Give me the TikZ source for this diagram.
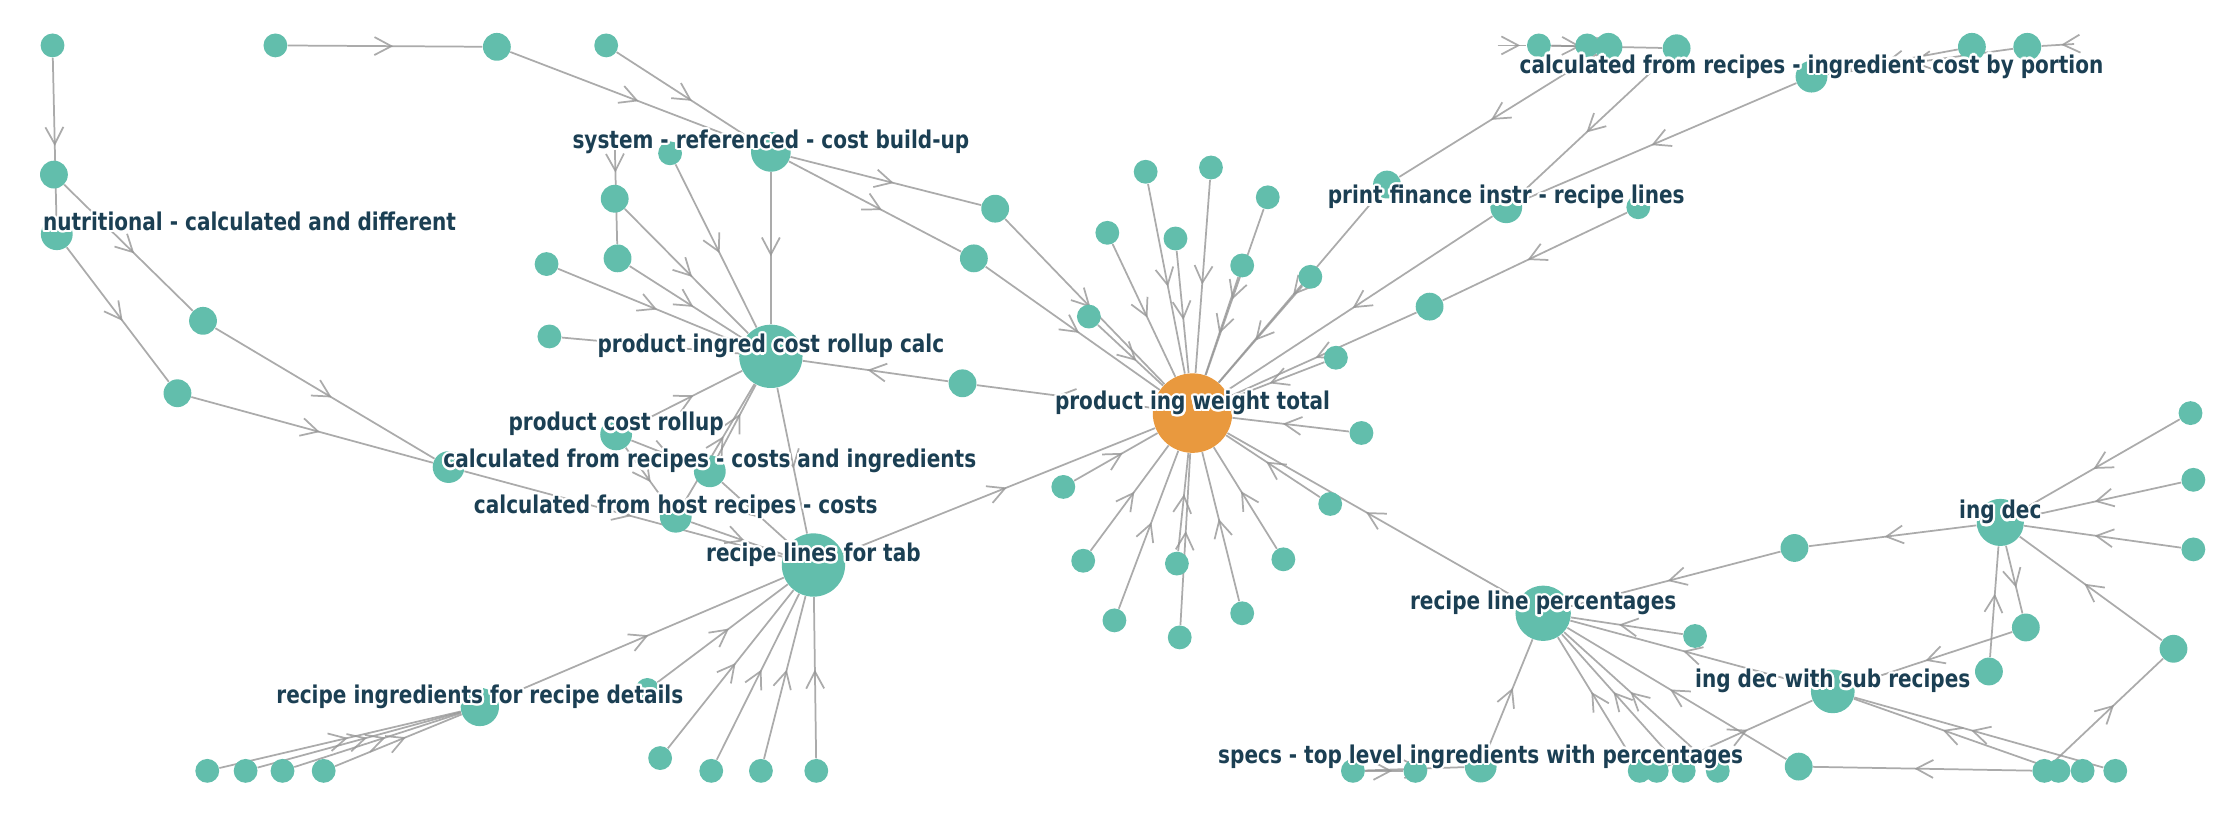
\documentclass[tikz,border=0pt]{standalone}
\usepackage{fontspec}
\usepackage{contour}
\usepackage{tikz}
\usetikzlibrary{decorations.markings, backgrounds}
\newfontfamily\labelfont{DejaVu Sans}[FakeStretch=0.82]
\contourlength{0.9pt}
\definecolor{nodeteal}{RGB}{98,190,172}
\definecolor{hubamber}{RGB}{233,153,62}
\definecolor{labelink}{RGB}{27,63,83}
\definecolor{linkgray}{RGB}{150,150,150}
\newcommand{\glow}[1]{\contour{white}{#1}}
\tikzset{
  sdot/.style={circle, fill=nodeteal, inner sep=0pt, minimum size=0.336cm},
  mdot/.style={sdot, minimum size=0.392cm},
  ldot/.style={sdot, minimum size=0.448cm},
  bigdot/.style={sdot, minimum size=#1},
  hubdot/.style={circle, fill=hubamber, inner sep=0pt, minimum size=1.12cm},
  lbl/.style={anchor=base, yshift=1.4pt, inner sep=0pt, text=labelink,
    font=\labelfont\bfseries\fontsize{9.8}{11.5}\selectfont},
  chevron/.style={draw=linkgray, draw opacity=0.8, line width=0.7pt},
  link/.style={draw=linkgray, draw opacity=0.8, line width=0.7pt,
    postaction={decorate}, decoration={markings, mark=at position #1 with
    {\draw[chevron] (-4.3pt,3.6pt) -- (2.5pt,0pt) -- (-4.3pt,-3.6pt);}}},
  link/.default=0.5
}

\begin{document}
\begin{tikzpicture}[x=0.02cm, y=-0.02cm]
  \useasboundingbox (0,0) rectangle (1568,573);

  % left side
  \node[sdot] (n01) at (37,32) {};
  \node[sdot] (n02) at (194,32) {};
  \node[mdot] (n03) at (350,33) {};
  \node[sdot] (n04) at (427,32) {};
  \node[mdot] (n05) at (38,123) {};
  \node[ldot] (nut) at (40,165) {};
  \node[mdot] (n07) at (143,226) {};
  \node[mdot] (n08) at (125,277) {};
  \node[ldot] (n09) at (316,329) {};

  % cost build-up group
  \node[bigdot=0.56cm] (src) at (543,107) {};
  \node[sdot] (n10) at (472,108) {};
  \node[mdot] (n11) at (433,140) {};
  \node[mdot] (n12) at (435,182) {};
  \node[sdot] (n13) at (385,186) {};
  \node[sdot] (n14) at (387,237) {};
  \node[mdot] (n15) at (701,147) {};
  \node[mdot] (n16) at (686,182) {};
  \node[bigdot=0.892cm] (picrc) at (543,251) {};
  \node[mdot] (n17) at (678,270) {};
  \node[ldot] (pcr) at (434,306) {};
  \node[ldot] (crci) at (500,332) {};
  \node[ldot] (chr) at (476,364) {};
  \node[bigdot=0.892cm] (rlt) at (573,398) {};
  \node[bigdot=0.54cm] (rird) at (338,498) {};
  \node[sdot] (n19) at (456,486) {};
  \node[sdot] (b1) at (146,543) {};
  \node[sdot] (b2) at (173,543) {};
  \node[sdot] (b3) at (199,543) {};
  \node[sdot] (b4) at (228,543) {};
  \node[sdot] (b5) at (465,534) {};
  \node[sdot] (b6) at (501,543) {};
  \node[sdot] (b7) at (536,543) {};
  \node[sdot] (b8) at (575,543) {};
  \coordinate (c1) at (433,101);

  % weight total hub
  \node[hubdot] (pwt) at (840,291) {};
  \node[sdot] (h01) at (807,121) {};
  \node[sdot] (h02) at (853,118) {};
  \node[sdot] (h03) at (893,139) {};
  \node[sdot] (h04) at (780,164) {};
  \node[sdot] (h05) at (828,168) {};
  \node[sdot] (h06) at (875,187) {};
  \node[sdot] (n18) at (767,223) {};
  \node[mdot] (n24) at (977,130) {};
  \node[sdot] (n25) at (923,195) {};
  \node[ldot] (pf) at (1061,146) {};
  \node[sdot] (n26) at (1154,146) {};
  \node[mdot] (n27) at (1007,216) {};
  \node[sdot] (n28) at (941,252) {};
  \node[sdot] (h07) at (959,305) {};
  \node[sdot] (h08) at (937,355) {};
  \node[sdot] (h09) at (749,343) {};
  \node[sdot] (h10) at (763,395) {};
  \node[sdot] (h11) at (829,397) {};
  \node[sdot] (h12) at (904,394) {};
  \node[sdot] (h13) at (785,437) {};
  \node[sdot] (h14) at (875,432) {};
  \node[sdot] (h15) at (831,449) {};

  % top right row
  \node[sdot] (t1) at (1084,32) {};
  \node[sdot] (t2) at (1118,32) {};
  \node[mdot] (t3) at (1133,33) {};
  \node[mdot] (t4) at (1181,34) {};
  \node[ldot] (cic) at (1276,54) {};
  \node[mdot] (t5) at (1389,33) {};
  \node[mdot] (t6) at (1428,33) {};
  \coordinate (stubl) at (1055,32);
  \coordinate (stubr) at (1461,31);

  % percentages group
  \node[bigdot=0.78cm] (rlp) at (1087,432) {};
  \node[mdot] (n40) at (1264,386) {};
  \node[sdot] (n41) at (1194,448) {};
  \node[bigdot=0.664cm] (idn) at (1409,368) {};
  \node[sdot] (r1) at (1543,291) {};
  \node[sdot] (r2) at (1545,338) {};
  \node[sdot] (r3) at (1545,387) {};
  \node[mdot] (n44) at (1427,442) {};
  \node[mdot] (n45) at (1401,473) {};
  \node[mdot] (n43) at (1531,457) {};
  \node[bigdot=0.616cm] (ids) at (1291,487) {};
  \node[mdot] (n42) at (1267,540) {};
  \node[ldot] (specs) at (1043,540) {};
  \node[sdot] (s1) at (953,543) {};
  \node[sdot] (s2) at (997,543) {};
  \node[sdot] (s4) at (1155,543) {};
  \node[sdot] (s5) at (1167,543) {};
  \node[sdot] (s6) at (1186,543) {};
  \node[sdot] (s7) at (1210,543) {};
  \node[sdot] (br1) at (1440,543) {};
  \node[sdot] (br2) at (1450,543) {};
  \node[sdot] (br3) at (1467,543) {};
  \node[sdot] (br4) at (1490,543) {};

  \begin{scope}[on background layer]
    \draw[link] (n01) -- (nut);
    \draw[link] (n02) -- (n03);
    \draw[link] (n03) -- (src);
    \draw[link] (n04) -- (src);
    \draw[link] (n05) -- (n07);
    \draw[link] (nut) -- (n08);
    \draw[link] (n07) -- (n09);
    \draw[link] (n08) -- (n09);
    \draw[link] (n09) -- (rlt);
    \draw[link=0.21] (c1) -- (n12);
    \draw[link] (src) -- (picrc);
    \draw[link] (src) -- (n15);
    \draw[link] (src) -- (n16);
    \draw[link] (n10) -- (picrc);
    \draw[link] (n11) -- (picrc);
    \draw[link] (n12) -- (picrc);
    \draw[link] (n13) -- (picrc);
    \draw[link] (n14) -- (picrc);
    \draw[link] (n17) -- (picrc);
    \draw[link] (pcr) -- (picrc);
    \draw[link] (crci) -- (picrc);
    \draw[link] (chr) -- (picrc);
    \draw[link] (picrc) -- (rlt);
    \draw[link] (pcr) -- (crci);
    \draw[link] (pcr) -- (chr);
    \draw[link] (crci) -- (rlt);
    \draw[link] (chr) -- (rlt);
    \draw[link] (rird) -- (rlt);
    \draw[link] (n19) -- (rlt);
    \draw[link] (b5) -- (rlt);
    \draw[link] (b6) -- (rlt);
    \draw[link] (b7) -- (rlt);
    \draw[link] (b8) -- (rlt);
    \draw[link] (b1) -- (rird);
    \draw[link] (b2) -- (rird);
    \draw[link] (b3) -- (rird);
    \draw[link] (b4) -- (rird);
    % into the hub
    \draw[link] (n15) -- (pwt);
    \draw[link] (n16) -- (pwt);
    \draw[link] (n18) -- (pwt);
    \draw[link] (h01) -- (pwt);
    \draw[link] (h02) -- (pwt);
    \draw[link] (h03) -- (pwt);
    \draw[link] (h04) -- (pwt);
    \draw[link] (h05) -- (pwt);
    \draw[link] (h06) -- (pwt);
    \draw[link] (n24) -- (pwt);
    \draw[link] (n25) -- (pwt);
    \draw[link] (pf) -- (pwt);
    \draw[link] (n27) -- (pwt);
    \draw[link] (n28) -- (pwt);
    \draw[link] (h07) -- (pwt);
    \draw[link] (h08) -- (pwt);
    \draw[link] (rlp) -- (pwt);
    \draw[link] (rlt) -- (pwt);
    \draw[link] (h09) -- (pwt);
    \draw[link] (h10) -- (pwt);
    \draw[link] (h11) -- (pwt);
    \draw[link] (h12) -- (pwt);
    \draw[link] (h13) -- (pwt);
    \draw[link] (h14) -- (pwt);
    \draw[link] (h15) -- (pwt);
    \draw[link] (pwt) -- (n17);
    % top row
    \draw[link] (stubl) -- (t1);
    \draw[link] (t1) -- (t3);
    \draw[link] (t1) -- (t4);
    \draw[link] (t3) -- (n24);
    \draw[link] (t4) -- (pf);
    \draw[link] (cic) -- (pf);
    \draw[link] (t5) -- (cic);
    \draw[link] (t6) -- (cic);
    \draw[link=0.15] (stubr) -- (t6);
    \draw[link] (n26) -- (n27);
    % percentages
    \draw[link] (n40) -- (rlp);
    \draw[link] (idn) -- (n40);
    \draw[link] (n41) -- (rlp);
    \draw[link] (ids) -- (rlp);
    \draw[link] (n42) -- (rlp);
    \draw[link] (specs) -- (rlp);
    \draw[link] (s1) -- (s2);
    \draw[link] (s1) -- (specs);
    \draw[link] (s4) -- (rlp);
    \draw[link] (s6) -- (rlp);
    \draw[link] (s7) -- (rlp);
    \draw[link] (s5) -- (ids);
    \draw[link] (r1) -- (idn);
    \draw[link] (r2) -- (idn);
    \draw[link] (r3) -- (idn);
    \draw[link] (n43) -- (idn);
    \draw[link] (n45) -- (idn);
    \draw[link] (idn) -- (n44);
    \draw[link] (n44) -- (ids);
    \draw[link] (br1) -- (n42);
    \draw[link] (br1) -- (n43);
    \draw[link] (br2) -- (ids);
    \draw[link] (br4) -- (ids);
  \end{scope}

  % labels
  \node[lbl, anchor=base west] (nutlabel) at (30,165) {\glow{nutritional - calculated and different}};
  \node[lbl] (srclabel) at (src) {\glow{system - referenced - cost build-up}};
  \node[lbl] (picrclabel) at (picrc) {\glow{product ingred cost rollup calc}};
  \node[lbl] (pcrlabel) at (pcr) {\glow{product cost rollup}};
  \node[lbl] (crcilabel) at (crci) {\glow{calculated from recipes - costs and ingredients}};
  \node[lbl] (chrlabel) at (chr) {\glow{calculated from host recipes - costs}};
  \node[lbl] (rltlabel) at (rlt) {\glow{recipe lines for tab}};
  \node[lbl] (rirdlabel) at (rird) {\glow{recipe ingredients for recipe details}};
  \node[lbl] (pwtlabel) at (pwt) {\glow{product ing weight total}};
  \node[lbl] (pflabel) at (pf) {\glow{print finance instr - recipe lines}};
  \node[lbl] (ciclabel) at (cic) {\glow{calculated from recipes - ingredient cost by portion}};
  \node[lbl] (rlplabel) at (rlp) {\glow{recipe line percentages}};
  \node[lbl] (idnlabel) at (idn) {\glow{ing dec}};
  \node[lbl] (idslabel) at (ids) {\glow{ing dec with sub recipes}};
  \node[lbl] (specslabel) at (specs) {\glow{specs - top level ingredients with percentages}};
\end{tikzpicture}
\end{document}
